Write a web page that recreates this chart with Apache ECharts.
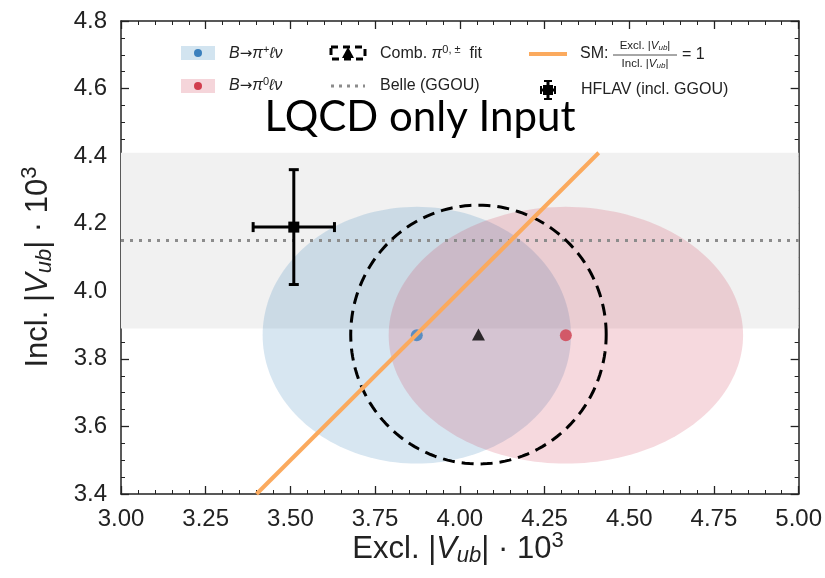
<!DOCTYPE html>
<html>
<head>
<meta charset="utf-8">
<script src="https://cdn.jsdelivr.net/npm/echarts@6/dist/echarts.min.js"></script>
<style>
html,body{margin:0;padding:0;background:#fff;}
#chart{width:825px;height:578px;}
</style>
</head>
<body>
<div id="chart"></div>
<script>
// ---- data ----
const xRange = [3.0, 5.0];
const yRange = [3.4, 4.8];
const xInterval = 0.25;
const yInterval = 0.2;

const bPlusCenter = [3.873, 3.870];
const bPlusSemi = [0.455, 0.380];
const bZeroCenter = [4.313, 3.870];
const bZeroSemi = [0.523, 0.380];
const combCenter = [4.055, 3.872];
const combSemi = [0.377, 0.383];

const belleCentral = 4.15;
const belleErr = 0.26;

const hflavPoint = [3.51, 4.19];
const hflavXErr = 0.12;
const hflavYErr = 0.17;

const smLine = [[3.40, 3.40], [4.41, 4.41]];

const FONT = '"Liberation Sans", Arial, sans-serif';

function ellipseItem(fill, stroke, dash) {
  return function (params, api) {
    const cx = api.value(0), cy = api.value(1), sx = api.value(2), sy = api.value(3);
    const pts = [];
    const N = 180;
    for (let i = 0; i < N; i++) {
      const t = (i / N) * Math.PI * 2;
      pts.push(api.coord([cx + sx * Math.cos(t), cy + sy * Math.sin(t)]));
    }
    return {
      type: 'polygon',
      shape: { points: pts },
      style: {
        fill: fill,
        stroke: stroke || null,
        lineWidth: stroke ? 3 : 0,
        lineDash: dash || null
      }
    };
  };
}

const chart = echarts.init(document.getElementById('chart'), null, { renderer: 'canvas' });

const axisCommon = {
  type: 'value',
  axisLine: { show: true, onZero: false, lineStyle: { color: '#222', width: 1.5 } },
  axisTick: { show: true, inside: true, length: 8, lineStyle: { color: '#222', width: 1.3 } },
  minorTick: { show: true, length: 4, lineStyle: { color: '#222', width: 1 } },
  splitLine: { show: false },
  minorSplitLine: { show: false }
};

const option = {
  backgroundColor: '#fff',
  animation: false,
  grid: { left: 121, right: 26, top: 21, bottom: 84, containLabel: false },
  xAxis: [
    Object.assign({}, axisCommon, {
      min: xRange[0], max: xRange[1], interval: xInterval, position: 'bottom',
      minorTick: Object.assign({}, axisCommon.minorTick, { splitNumber: 5 }),
      axisLabel: { fontFamily: FONT, fontSize: 24, color: '#222', margin: 13,
        formatter: v => v.toFixed(2) }
    }),
    Object.assign({}, axisCommon, {
      min: xRange[0], max: xRange[1], interval: xInterval, position: 'top',
      minorTick: Object.assign({}, axisCommon.minorTick, { splitNumber: 5 }),
      axisLabel: { show: false }
    })
  ],
  yAxis: [
    Object.assign({}, axisCommon, {
      min: yRange[0], max: yRange[1], interval: yInterval, position: 'left',
      minorTick: Object.assign({}, axisCommon.minorTick, { splitNumber: 4 }),
      axisLabel: { fontFamily: FONT, fontSize: 24, color: '#222', margin: 14,
        formatter: v => v.toFixed(1) }
    }),
    Object.assign({}, axisCommon, {
      min: yRange[0], max: yRange[1], interval: yInterval, position: 'right',
      minorTick: Object.assign({}, axisCommon.minorTick, { splitNumber: 4 }),
      axisLabel: { show: false }
    })
  ],
  series: [
    { // Belle band
      type: 'custom', z: 1,
      data: [[xRange[0], belleCentral - belleErr, xRange[1], belleCentral + belleErr]],
      renderItem: function (params, api) {
        const p1 = api.coord([api.value(0), api.value(3)]);
        const p2 = api.coord([api.value(2), api.value(1)]);
        return { type: 'rect', shape: { x: p1[0], y: p1[1], width: p2[0] - p1[0], height: p2[1] - p1[1] },
          style: { fill: '#f1f1f1' } };
      }
    },
    { type: 'custom', z: 2, data: [[bPlusCenter[0], bPlusCenter[1], bPlusSemi[0], bPlusSemi[1]]],
      renderItem: ellipseItem('rgba(31,119,180,0.18)') },
    { type: 'custom', z: 3, data: [[bZeroCenter[0], bZeroCenter[1], bZeroSemi[0], bZeroSemi[1]]],
      renderItem: ellipseItem('rgba(204,45,70,0.18)') },
    { // Belle central dotted line
      type: 'line', z: 4, symbol: 'none',
      data: [[xRange[0], belleCentral], [xRange[1], belleCentral]],
      lineStyle: { color: '#8c8c8c', width: 3, type: [3, 6], cap: 'butt' }
    },
    { type: 'custom', z: 5, data: [[combCenter[0], combCenter[1], combSemi[0], combSemi[1]]],
      renderItem: ellipseItem(null, '#000', [12, 7]) },
    { type: 'scatter', z: 6, symbol: 'circle', symbolSize: 12, data: [bPlusCenter],
      itemStyle: { color: '#3b80bd' } },
    { type: 'line', z: 7, symbol: 'none', data: smLine,
      lineStyle: { color: '#fbaa5e', width: 4 } },
    { type: 'scatter', z: 8, symbol: 'circle', symbolSize: 12, data: [bZeroCenter],
      itemStyle: { color: '#d13e4e' } },
    { type: 'scatter', z: 8, symbol: 'triangle', symbolSize: [13, 12], data: [combCenter],
      itemStyle: { color: '#000' } },
    { // HFLAV
      type: 'custom', z: 9,
      data: [[hflavPoint[0], hflavPoint[1], hflavXErr, hflavYErr]],
      renderItem: function (params, api) {
        const x = api.value(0), y = api.value(1), ex = api.value(2), ey = api.value(3);
        const c = api.coord([x, y]);
        const l = api.coord([x - ex, y]), r = api.coord([x + ex, y]);
        const t = api.coord([x, y + ey]), b = api.coord([x, y - ey]);
        const st = { stroke: '#000', lineWidth: 3 };
        const cap = 5;
        return { type: 'group', children: [
          { type: 'line', shape: { x1: l[0], y1: l[1], x2: r[0], y2: r[1] }, style: st },
          { type: 'line', shape: { x1: t[0], y1: t[1], x2: b[0], y2: b[1] }, style: st },
          { type: 'line', shape: { x1: l[0], y1: l[1] - cap, x2: l[0], y2: l[1] + cap }, style: st },
          { type: 'line', shape: { x1: r[0], y1: r[1] - cap, x2: r[0], y2: r[1] + cap }, style: st },
          { type: 'line', shape: { x1: t[0] - cap, y1: t[1], x2: t[0] + cap, y2: t[1] }, style: st },
          { type: 'line', shape: { x1: b[0] - cap, y1: b[1], x2: b[0] + cap, y2: b[1] }, style: st },
          { type: 'rect', shape: { x: c[0] - 5.5, y: c[1] - 5.5, width: 11, height: 11 }, style: { fill: '#000' } }
        ] };
      }
    }
  ],
  graphic: [
    // axis names
    { type: 'text', x: 458, y: 549, z: 20,
      style: { text: '{n|Excl. |}{i|V}{s|ub}{n|| · 10}{p|3}', align: 'center', verticalAlign: 'middle',
        rich: {
          n: { fontFamily: FONT, fontSize: 31, fill: '#222' },
          i: { fontFamily: FONT, fontSize: 31, fontStyle: 'italic', fill: '#222' },
          s: { fontFamily: FONT, fontSize: 22, fontStyle: 'italic', fill: '#222', padding: [14, 0, 0, 0] },
          p: { fontFamily: FONT, fontSize: 22, fill: '#222', padding: [0, 0, 16, 0] }
        } } },
    { type: 'text', x: 38, y: 267, rotation: Math.PI / 2, z: 20,
      style: { text: '{n|Incl. |}{i|V}{s|ub}{n|| · 10}{p|3}', align: 'center', verticalAlign: 'middle',
        rich: {
          n: { fontFamily: FONT, fontSize: 31, fill: '#222' },
          i: { fontFamily: FONT, fontSize: 31, fontStyle: 'italic', fill: '#222' },
          s: { fontFamily: FONT, fontSize: 22, fontStyle: 'italic', fill: '#222', padding: [14, 0, 0, 0] },
          p: { fontFamily: FONT, fontSize: 22, fill: '#222', padding: [0, 0, 16, 0] }
        } } },
    // overlay title
    { type: 'text', x: 420, y: 117, z: 20,
      style: { text: 'LQCD only Input', align: 'center', verticalAlign: 'middle',
        fontFamily: 'Lato, "Open Sans", sans-serif', fontSize: 42, fill: '#000' } },
    // legend: B→π+ℓν
    { type: 'rect', shape: { x: 181, y: 46, width: 34, height: 14 }, style: { fill: 'rgba(31,119,180,0.2)' }, z: 20 },
    { type: 'circle', shape: { cx: 198, cy: 53, r: 4 }, style: { fill: '#3b80bd' }, z: 21 },
    { type: 'text', x: 229, y: 54, z: 20,
      style: { text: '{i|B}{n|→}{i|π}{p|+}{i|ℓν}', verticalAlign: 'middle',
        rich: {
          n: { fontFamily: '"DejaVu Sans", sans-serif', fontSize: 15, fill: '#222' },
          i: { fontFamily: FONT, fontSize: 16, fontStyle: 'italic', fill: '#222' },
          p: { fontFamily: FONT, fontSize: 11, fill: '#222', padding: [0, 0, 8, 0] }
        } } },
    // legend: B→π0ℓν
    { type: 'rect', shape: { x: 181, y: 79, width: 34, height: 14 }, style: { fill: 'rgba(204,45,70,0.2)' }, z: 20 },
    { type: 'circle', shape: { cx: 198, cy: 86, r: 4 }, style: { fill: '#d13e4e' }, z: 21 },
    { type: 'text', x: 229, y: 86, z: 20,
      style: { text: '{i|B}{n|→}{i|π}{p|0}{i|ℓν}', verticalAlign: 'middle',
        rich: {
          n: { fontFamily: '"DejaVu Sans", sans-serif', fontSize: 15, fill: '#222' },
          i: { fontFamily: FONT, fontSize: 16, fontStyle: 'italic', fill: '#222' },
          p: { fontFamily: FONT, fontSize: 11, fill: '#222', padding: [0, 0, 8, 0] }
        } } },
    // legend: Comb fit
    { type: 'rect', shape: { x: 331, y: 47, width: 34, height: 12 }, z: 20,
      style: { fill: null, stroke: '#000', lineWidth: 3, lineDash: [7, 5] } },
    { type: 'polygon', shape: { points: [[348, 47], [342, 58], [354, 58]] }, style: { fill: '#000' }, z: 21 },
    { type: 'text', x: 380, y: 54, z: 20,
      style: { text: '{n|Comb. }{i|π}{p|0, ±}{n|  fit}', verticalAlign: 'middle',
        rich: {
          n: { fontFamily: FONT, fontSize: 16, fill: '#222' },
          i: { fontFamily: FONT, fontSize: 16, fontStyle: 'italic', fill: '#222' },
          p: { fontFamily: FONT, fontSize: 11, fill: '#222', padding: [0, 0, 8, 0] }
        } } },
    // legend: Belle
    { type: 'line', shape: { x1: 331, y1: 86, x2: 365, y2: 86 }, z: 20,
      style: { stroke: '#8c8c8c', lineWidth: 3, lineDash: [3, 5] } },
    { type: 'text', x: 380, y: 86, z: 20,
      style: { text: 'Belle (GGOU)', verticalAlign: 'middle', fontFamily: FONT, fontSize: 16, fill: '#222' } },
    // legend: SM
    { type: 'line', shape: { x1: 529, y1: 54, x2: 567, y2: 54 }, z: 20,
      style: { stroke: '#fbaa5e', lineWidth: 4 } },
    { type: 'text', x: 580, y: 54, z: 20,
      style: { text: 'SM:', verticalAlign: 'middle', fontFamily: FONT, fontSize: 16, fill: '#222' } },
    { type: 'text', x: 645, y: 46, z: 20,
      style: { text: '{n|Excl. |}{i|V}{s|ub}{n||}', align: 'center', verticalAlign: 'middle',
        rich: {
          n: { fontFamily: FONT, fontSize: 11.5, fill: '#222' },
          i: { fontFamily: FONT, fontSize: 11.5, fontStyle: 'italic', fill: '#222' },
          s: { fontFamily: FONT, fontSize: 8, fontStyle: 'italic', fill: '#222', padding: [4, 0, 0, 0] }
        } } },
    { type: 'line', shape: { x1: 613, y1: 55, x2: 677, y2: 55 }, style: { stroke: '#222', lineWidth: 0.8 }, z: 20 },
    { type: 'text', x: 645, y: 64, z: 20,
      style: { text: '{n|Incl. |}{i|V}{s|ub}{n||}', align: 'center', verticalAlign: 'middle',
        rich: {
          n: { fontFamily: FONT, fontSize: 11.5, fill: '#222' },
          i: { fontFamily: FONT, fontSize: 11.5, fontStyle: 'italic', fill: '#222' },
          s: { fontFamily: FONT, fontSize: 8, fontStyle: 'italic', fill: '#222', padding: [4, 0, 0, 0] }
        } } },
    { type: 'text', x: 682, y: 55, z: 20,
      style: { text: '= 1', verticalAlign: 'middle', fontFamily: FONT, fontSize: 16, fill: '#222' } },
    // legend: HFLAV
    { type: 'group', x: 548, y: 90, z: 20, children: [
      { type: 'line', shape: { x1: -7, y1: 0, x2: 7, y2: 0 }, style: { stroke: '#000', lineWidth: 3 } },
      { type: 'line', shape: { x1: 0, y1: -9, x2: 0, y2: 9 }, style: { stroke: '#000', lineWidth: 3 } },
      { type: 'line', shape: { x1: -7, y1: -4, x2: -7, y2: 4 }, style: { stroke: '#000', lineWidth: 2 } },
      { type: 'line', shape: { x1: 7, y1: -4, x2: 7, y2: 4 }, style: { stroke: '#000', lineWidth: 2 } },
      { type: 'line', shape: { x1: -4, y1: -9, x2: 4, y2: -9 }, style: { stroke: '#000', lineWidth: 2 } },
      { type: 'line', shape: { x1: -4, y1: 9, x2: 4, y2: 9 }, style: { stroke: '#000', lineWidth: 2 } },
      { type: 'rect', shape: { x: -5, y: -5, width: 10, height: 10 }, style: { fill: '#000' } }
    ] },
    { type: 'text', x: 581, y: 90, z: 20,
      style: { text: 'HFLAV (incl. GGOU)', verticalAlign: 'middle', fontFamily: FONT, fontSize: 16, fill: '#222' } }
  ]
};

chart.setOption(option);
</script>
</body>
</html>
